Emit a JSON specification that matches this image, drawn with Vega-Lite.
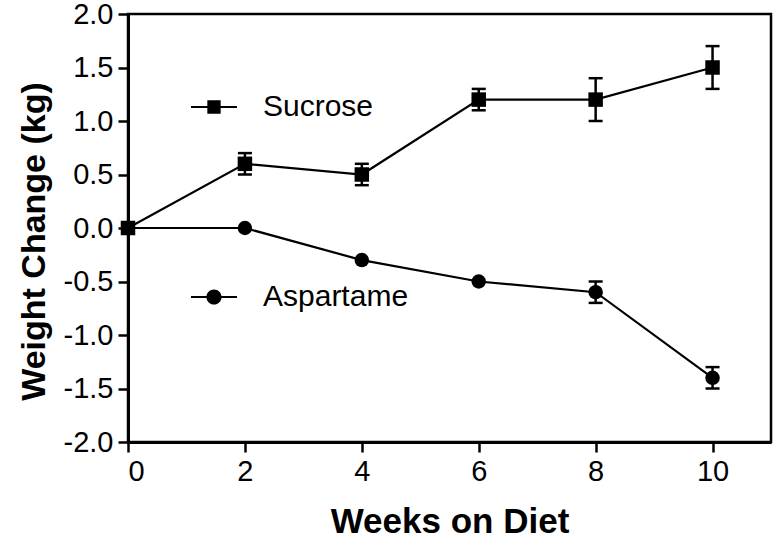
{
  "$schema": "https://vega.github.io/schema/vega-lite/v6.json",
  "width": 643,
  "height": 428,
  "autosize": {"type": "none"},
  "padding": {"left": 128, "top": 14, "right": 4, "bottom": 101},
  "background": "white",
  "config": {
    "view": {"stroke": "black", "strokeWidth": 2.5},
    "font": "Liberation Sans",
    "axis": {
      "grid": false,
      "domainColor": "black",
      "domainWidth": 3,
      "tickColor": "black",
      "tickWidth": 2.5,
      "tickSize": 10,
      "labelFont": "Liberation Sans",
      "labelFontSize": 29,
      "labelColor": "black",
      "labelPadding": 5,
      "titleFont": "Liberation Sans",
      "titleFontSize": 35,
      "titleFontWeight": "bold",
      "titleColor": "black"
    }
  },
  "data": {
    "values": [
      {"series": "Sucrose", "week": 0, "weight": 0},
      {"series": "Sucrose", "week": 2, "weight": 0.6, "lo": 0.5, "hi": 0.7},
      {"series": "Sucrose", "week": 4, "weight": 0.5, "lo": 0.4, "hi": 0.6},
      {"series": "Sucrose", "week": 6, "weight": 1.2, "lo": 1.1, "hi": 1.3},
      {"series": "Sucrose", "week": 8, "weight": 1.2, "lo": 1.0, "hi": 1.4},
      {"series": "Sucrose", "week": 10, "weight": 1.5, "lo": 1.3, "hi": 1.7},
      {"series": "Aspartame", "week": 0, "weight": 0},
      {"series": "Aspartame", "week": 2, "weight": 0},
      {"series": "Aspartame", "week": 4, "weight": -0.3},
      {"series": "Aspartame", "week": 6, "weight": -0.5},
      {"series": "Aspartame", "week": 8, "weight": -0.6, "lo": -0.7, "hi": -0.5},
      {"series": "Aspartame", "week": 10, "weight": -1.4, "lo": -1.5, "hi": -1.3}
    ]
  },
  "encoding": {
    "x": {
      "field": "week",
      "type": "quantitative",
      "title": "Weeks on Diet",
      "scale": {"domain": [0, 11], "nice": false, "zero": false},
      "axis": {"values": [0, 2, 4, 6, 8, 10], "titlePadding": 18}
    }
  },
  "layer": [
    {
      "mark": {"type": "line", "color": "black", "strokeWidth": 2.2},
      "encoding": {
        "y": {
          "field": "weight",
          "type": "quantitative",
          "title": "Weight Change (kg)",
          "scale": {"domain": [-2, 2], "nice": false},
          "axis": {"values": [-2, -1.5, -1, -0.5, 0, 0.5, 1, 1.5, 2], "labelExpr": "replace(format(datum.value, '.1f'), '\u2212', '-')", "titlePadding": 12, "titleFontSize": 34, "titleY": 227}
        },
        "detail": {"field": "series"}
      }
    },
    {
      "transform": [{"filter": "isValid(datum.lo)"}],
      "mark": {"type": "errorbar", "color": "black", "thickness": 2.5, "rule": {"strokeWidth": 2.5, "color": "black", "opacity": 1}, "ticks": {"size": 14, "thickness": 2.5, "color": "black", "opacity": 1}},
      "encoding": {
        "y": {"field": "lo", "type": "quantitative", "title": "Weight Change (kg)", "scale": {"domain": [-2, 2], "nice": false}},
        "y2": {"field": "hi"}
      }
    },
    {
      "mark": {"type": "point", "filled": true, "size": 210, "opacity": 1, "color": "black"},
      "encoding": {
        "y": {"field": "weight", "type": "quantitative", "title": "Weight Change (kg)", "scale": {"domain": [-2, 2], "nice": false}},
        "shape": {
          "field": "series",
          "type": "nominal",
          "scale": {"domain": ["Sucrose", "Aspartame"], "range": ["square", "circle"]},
          "legend": null
        }
      }
    },
    {
      "mark": {"type": "point", "filled": true, "opacity": 0, "color": "black"},
      "encoding": {
        "y": {"field": "weight", "type": "quantitative", "title": "Weight Change (kg)", "scale": {"domain": [-2, 2], "nice": false}},
        "shape": {
          "field": "series",
          "type": "nominal",
          "scale": {
            "domain": ["Sucrose", "Aspartame"],
            "range": [
              "M-1,-0.045H1V0.045H-1ZM-0.29,-0.29H0.29V0.29H-0.29Z",
              "M-1,-0.045H1V0.045H-1ZM0.33,0A0.33,0.33,0,1,1,-0.33,0A0.33,0.33,0,1,1,0.33,0Z"
            ]
          },
          "legend": {
            "title": null,
            "orient": "none",
            "legendX": 62,
            "legendY": 69,
            "direction": "vertical",
            "padding": 0,
            "rowPadding": 151,
            "symbolSize": 2116,
            "labelFont": "Liberation Sans",
            "labelFontSize": 30,
            "labelColor": "black",
            "labelOffset": 25,
            "labelBaseline": "middle",
            "encode": {
              "symbols": {
                "update": {
                  "opacity": {"value": 1},
                  "fillOpacity": {"value": 1},
                  "fill": {"value": "black"},
                  "stroke": {"value": "transparent"},
                  "strokeWidth": {"value": 0},
                  "size": {"value": 2116}
                }
              }
            }
          }
        }
      }
    }
  ],
  "resolve": {"scale": {"shape": "independent"}}
}
